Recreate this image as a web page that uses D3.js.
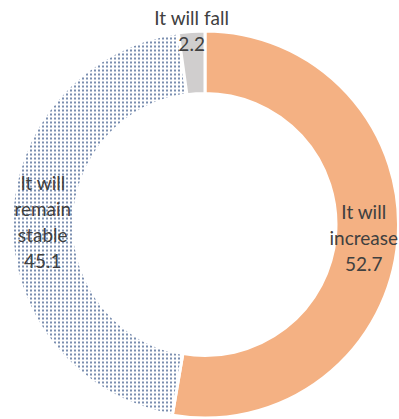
<!DOCTYPE html>
<html>
<head>
<meta charset="utf-8">
<script src="https://cdn.jsdelivr.net/npm/d3@7/dist/d3.min.js"></script>
<style>
  body { margin: 0; background: #fff; }
  text { font-family: Lato, "Open Sans", sans-serif; fill: #404040; }
</style>
</head>
<body>
<div class="chart"></div>
<script>
var categories = ["It will increase", "It will remain stable", "It will fall"];
var values = [52.7, 45.1, 2.2];
var labelLines = [["It will", "increase"], ["It will", "remain", "stable"], ["It will fall"]];

var width = 399;
var height = 419;
var cx = 205, cy = 224.5;
var outerR = 193.5;
var innerR = 131;

var data = categories.map((c, i) => ({cat: c, value: values[i], lines: labelLines[i]}));

var svg = d3.select(".chart").append("svg")
    .attr("width", width)
    .attr("height", height);

// dotted pattern for the "stable" slice
var defs = svg.append("defs");
var pat = defs.append("pattern")
    .attr("id", "dots")
    .attr("patternUnits", "userSpaceOnUse")
    .attr("width", 4)
    .attr("height", 4);
pat.append("rect").attr("width", 4).attr("height", 4).attr("fill", "#fff");
pat.append("rect").attr("x", 1).attr("y", 1).attr("width", 2).attr("height", 2).attr("fill", "#7b8fb0");

var fills = ["#f4b183", "url(#dots)", "#d0cece"];

var pie = d3.pie()
    .value(d => d.value)
    .sort(null);

var arc = d3.arc()
    .innerRadius(innerR)
    .outerRadius(outerR);

var midArc = d3.arc()
    .innerRadius((innerR + outerR) / 2)
    .outerRadius((innerR + outerR) / 2);

// the small slice has its label pushed out to the rim
var rimArc = d3.arc()
    .innerRadius(outerR)
    .outerRadius(outerR);

var g = svg.append("g")
    .attr("transform", "translate(" + cx + "," + cy + ")");

var arcs = pie(data);

g.selectAll("path")
    .data(arcs)
    .enter()
    .append("path")
    .attr("d", arc)
    .attr("fill", (d, i) => fills[i])
    .attr("stroke", "#fff")
    .attr("stroke-width", 3);

var lineH = 26;
var fontSize = 19;

var labels = g.selectAll("text.lbl")
    .data(arcs)
    .enter()
    .append("text")
    .attr("class", "lbl")
    .attr("text-anchor", "middle")
    .attr("font-size", fontSize);

labels.each(function(d) {
  var lines = d.data.lines.concat([d3.format(".1f")(d.data.value)]);
  var t = d3.select(this);
  var n = lines.length;
  lines.forEach((l, k) => {
    t.append("tspan")
      .attr("x", 0)
      .attr("y", (k - (n - 1) / 2) * lineH)
      .attr("dy", "0.35em")
      .text(l);
  });
  // place at centroid, but keep inside the svg
  var c = (d.index == 2 ? rimArc : midArc).centroid(d);
  var bb = this.getBBox();
  var x = c[0];
  if (cx + x + bb.x + bb.width > width - 1) x = width - 1 - cx - bb.x - bb.width;
  if (cx + x + bb.x < 1) x = 1 - cx - bb.x;
  t.attr("transform", "translate(" + x + "," + c[1] + ")");
});
</script>
</body>
</html>
